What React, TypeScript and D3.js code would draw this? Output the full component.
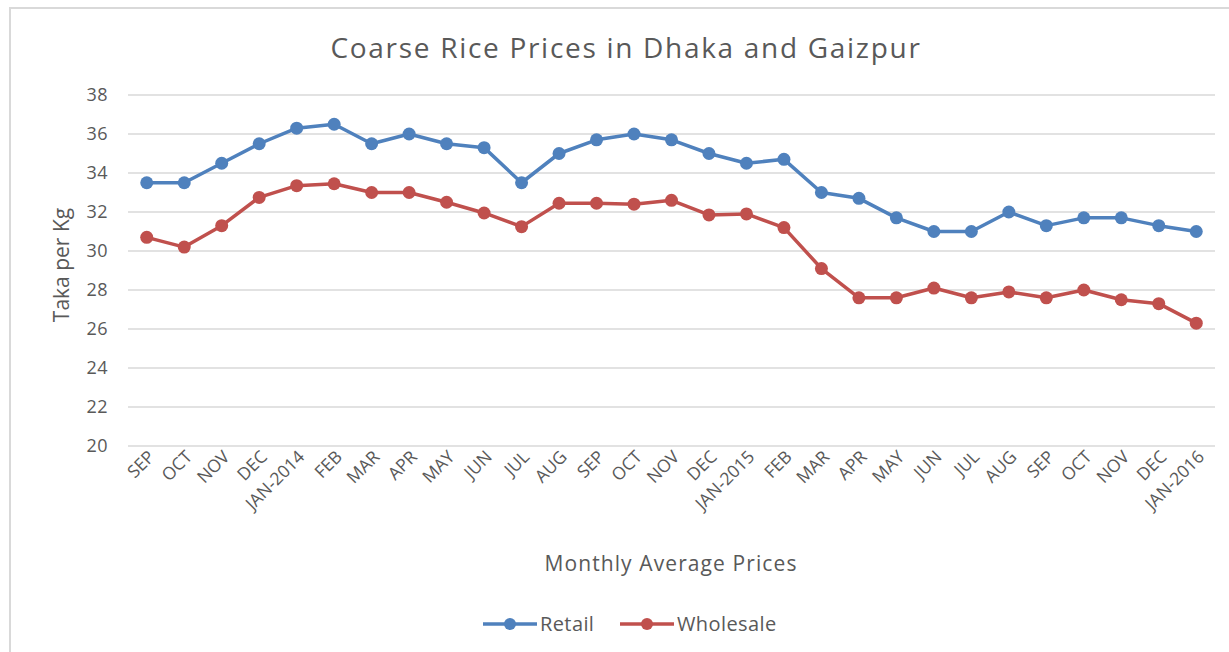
import React, { useEffect, useRef } from 'react';
import * as d3 from 'd3';

const months = ['SEP', 'OCT', 'NOV', 'DEC', 'JAN-2014', 'FEB', 'MAR', 'APR', 'MAY', 'JUN', 'JUL', 'AUG',
  'SEP', 'OCT', 'NOV', 'DEC', 'JAN-2015', 'FEB', 'MAR', 'APR', 'MAY', 'JUN', 'JUL', 'AUG',
  'SEP', 'OCT', 'NOV', 'DEC', 'JAN-2016'];
const retail = [33.5, 33.5, 34.5, 35.5, 36.3, 36.5, 35.5, 36.0, 35.5, 35.3, 33.5, 35.0,
  35.7, 36.0, 35.7, 35.0, 34.5, 34.7, 33.0, 32.7, 31.7, 31.0, 31.0, 32.0,
  31.3, 31.7, 31.7, 31.3, 31.0];
const wholesale = [30.7, 30.2, 31.3, 32.75, 33.35, 33.45, 33.0, 33.0, 32.5, 31.95, 31.25, 32.45,
  32.45, 32.4, 32.6, 31.85, 31.9, 31.2, 29.1, 27.6, 27.6, 28.1, 27.6, 27.9,
  27.6, 28.0, 27.5, 27.3, 26.3];
const yTicks = [20, 22, 24, 26, 28, 30, 32, 34, 36, 38];
const seriesNames = ['Retail', 'Wholesale'];
const colors = ['#4F81BD', '#C0504D'];

const W = 1229, H = 652;
const font = '"Open Sans", "Noto Sans", sans-serif';

const App = () => {
  const ref = useRef<SVGSVGElement>(null);
  useEffect(() => {
    const svg = d3.select(ref.current);
    svg.selectAll('*').remove();

    // chart area frame
    svg.append('rect')
      .attr('x', 10).attr('y', 8)
      .attr('width', 1240).attr('height', 660)
      .attr('fill', '#fff')
      .attr('stroke', '#D9D9D9').attr('stroke-width', 2);

    const x = d3.scaleBand<number>()
      .domain(d3.range(months.length))
      .range([128, 1215]);
    const y = d3.scaleLinear().domain([20, 38]).range([446, 95]);
    const cx = (i: number) => x(i)! + x.bandwidth() / 2;

    svg.append('text')
      .attr('x', 626).attr('y', 58)
      .attr('text-anchor', 'middle')
      .attr('font-family', font).attr('font-size', 28)
      .attr('letter-spacing', 1.7)
      .attr('fill', '#595959')
      .text('Coarse Rice Prices in Dhaka and Gaizpur');

    // gridlines
    svg.append('g').selectAll('line').data(yTicks).join('line')
      .attr('x1', 128).attr('x2', 1215)
      .attr('y1', d => y(d)).attr('y2', d => y(d))
      .attr('stroke', '#D9D9D9').attr('stroke-width', 1.3);

    svg.append('g').selectAll('text').data(yTicks).join('text')
      .attr('x', 108).attr('y', d => y(d) + 6)
      .attr('text-anchor', 'end')
      .attr('font-family', font).attr('font-size', 18)
      .attr('letter-spacing', 0.5)
      .attr('fill', '#595959')
      .text(d => d);

    svg.append('g').selectAll('text').data(months).join('text')
      .attr('transform', (d, i) => `translate(${cx(i) + 9},${458}) rotate(-45)`)
      .attr('text-anchor', 'end')
      .attr('font-family', font).attr('font-size', 17.5)
      .attr('fill', '#595959')
      .text(d => d);

    svg.append('text')
      .attr('transform', `translate(69,265) rotate(-90)`)
      .attr('text-anchor', 'middle')
      .attr('font-family', font).attr('font-size', 21)
      .attr('fill', '#595959')
      .text('Taka per Kg');

    svg.append('text')
      .attr('x', 671).attr('y', 571)
      .attr('text-anchor', 'middle')
      .attr('font-family', font).attr('font-size', 21)
      .attr('letter-spacing', 1.1)
      .attr('fill', '#595959')
      .text('Monthly Average Prices');

    const line = d3.line<number>().x((d, i) => cx(i)).y(d => y(d));
    [retail, wholesale].forEach((data, k) => {
      const g = svg.append('g');
      g.append('path').datum(data)
        .attr('fill', 'none')
        .attr('stroke', colors[k]).attr('stroke-width', 3.5)
        .attr('stroke-linejoin', 'round')
        .attr('d', line);
      g.selectAll('circle').data(data).join('circle')
        .attr('cx', (d, i) => cx(i)).attr('cy', d => y(d))
        .attr('r', 6.5)
        .attr('fill', colors[k]);
    });

    // legend
    const legendX = [483, 620];
    seriesNames.forEach((name, k) => {
      const g = svg.append('g').attr('transform', `translate(${legendX[k]},624)`);
      g.append('line').attr('x1', 0).attr('x2', 54)
        .attr('stroke', colors[k]).attr('stroke-width', 3.5);
      g.append('circle').attr('cx', 27).attr('r', 6).attr('fill', colors[k]);
      g.append('text').attr('x', 57).attr('y', 7)
        .attr('font-family', font).attr('font-size', 20)
        .attr('letter-spacing', 0.4)
        .attr('fill', '#595959')
        .text(name);
    });
  }, []);

  return (
    <svg ref={ref} width={W} height={H}
      style={{ position: 'absolute', left: 0, top: 0, background: '#fff' }} />
  );
};

export default App;
